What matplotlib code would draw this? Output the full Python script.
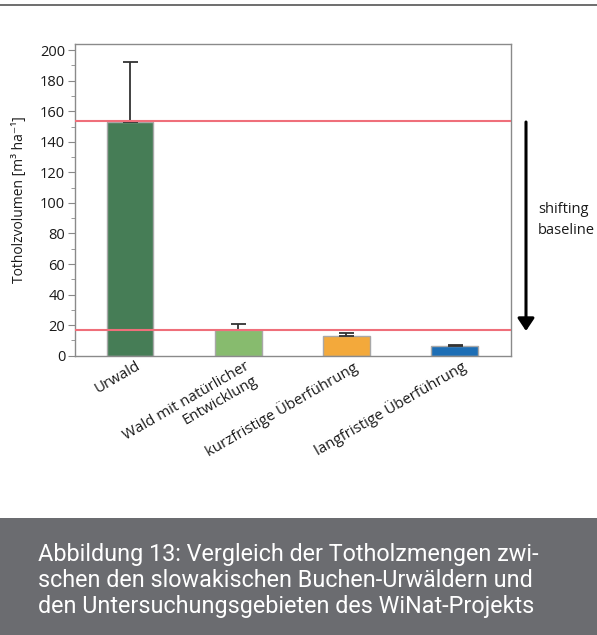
import matplotlib
matplotlib.use("Agg")
import matplotlib.pyplot as plt
from matplotlib.patches import Rectangle, FancyArrowPatch
from matplotlib.ticker import MultipleLocator
import matplotlib.transforms as mtransforms

# Data
categories = ["Urwald", "Wald mit natürlicher\nEntwicklung",
              "kurzfristige Überführung", "langfristige Überführung"]
volumes = [153.0, 16.6, 12.6, 6.1]        # Totholz m3/ha
errors_up = [39.0, 3.9, 2.0, 1.1]         # upper error bars
baselines = [153.5, 16.8]                 # red reference lines
bar_colors = ["#467d56", "#87bb6e", "#f3a93b", "#1d6eb5"]

caption = ["Abbildung 13: Vergleich der Totholzmengen zwi-",
           "schen den slowakischen Buchen-Urwäldern und",
           "den Untersuchungsgebieten des WiNat-Projekts"]

W, H = 597, 635
fig = plt.figure(figsize=(W / 100, H / 100), dpi=100)
fig.patch.set_facecolor("white")

font = ["Open Sans", "DejaVu Sans"]

# axes placed in pixel coords of the reference
ax = fig.add_axes([75 / W, 1 - 355.7 / H, 436 / W, 311.7 / H])

x = list(range(len(categories)))
ax.bar(x, volumes, width=0.43, color=bar_colors, edgecolor="#a8a8a8",
       linewidth=1, zorder=2)
ax.errorbar(x, volumes, yerr=[[0] * len(x), errors_up], fmt="none",
            ecolor="#333333", elinewidth=1.3, capsize=5.4, capthick=1.3,
            zorder=3)
for b in baselines:
    ax.axhline(b, color="#ef6f7a", lw=1.5, zorder=4)

ax.set_xlim(-0.508, 3.52)
ax.set_ylim(0, 204)
ax.yaxis.set_major_locator(MultipleLocator(20))
ax.yaxis.set_minor_locator(MultipleLocator(10))
ax.tick_params(axis="y", which="major", length=5, color="#888888",
               labelsize=10.5, pad=2)
ax.tick_params(axis="y", which="minor", length=3, color="#888888")
ax.tick_params(axis="x", length=0, pad=2)
for lab in ax.get_yticklabels():
    lab.set_family(font)
    lab.set_color("#1a1a1a")

ax.set_xticks(x)
ax.set_xticklabels(categories, rotation=30, ha="right", va="top",
                   rotation_mode="anchor", multialignment="right",
                   fontsize=10.8, family=font, color="#1a1a1a")
shift = mtransforms.ScaledTranslation(6 / 100, 0, fig.dpi_scale_trans)
for lab in ax.get_xticklabels():
    lab.set_transform(lab.get_transform() + shift)

for s in ax.spines.values():
    s.set_color("#8a8a8a")
    s.set_linewidth(1)

ax.set_ylabel("Totholzvolumen [m³ ha⁻¹]", fontsize=10, family=font,
              color="#1a1a1a")
ax.yaxis.set_label_coords((27 - 75) / 436, 0.5)

# shifting baseline arrow
arrow = FancyArrowPatch((526 / W, 1 - 122 / H), (526 / W, 1 - 331 / H),
                        transform=fig.transFigure,
                        arrowstyle="-|>,head_length=7.5,head_width=5",
                        mutation_scale=1, lw=2.2, color="black",
                        shrinkA=0, shrinkB=0)
fig.add_artist(arrow)
fig.text(538 / W, 1 - 213 / H, "shifting", fontsize=10.5, family=font,
         va="baseline", ha="left", color="#1a1a1a")
fig.text(538 / W, 1 - 234 / H, "baseline", fontsize=10.5, family=font,
         va="baseline", ha="left", color="#1a1a1a")

# top rule
fig.add_artist(plt.Line2D([0, 1], [1 - 4.5 / H, 1 - 4.5 / H],
                          transform=fig.transFigure, color="#555555", lw=1.2))

# caption box
fig.add_artist(Rectangle((0, 0), 1, 1 - 518 / H, transform=fig.transFigure,
                         facecolor="#6b6c70", edgecolor="none"))
for i, line in enumerate(caption):
    fig.text(38 / W, 1 - (561 + 26 * i) / H, line, fontsize=16.8,
             family=["Roboto", "DejaVu Sans"], color="white",
             va="baseline", ha="left")

fig.savefig("out.png", dpi=100)
